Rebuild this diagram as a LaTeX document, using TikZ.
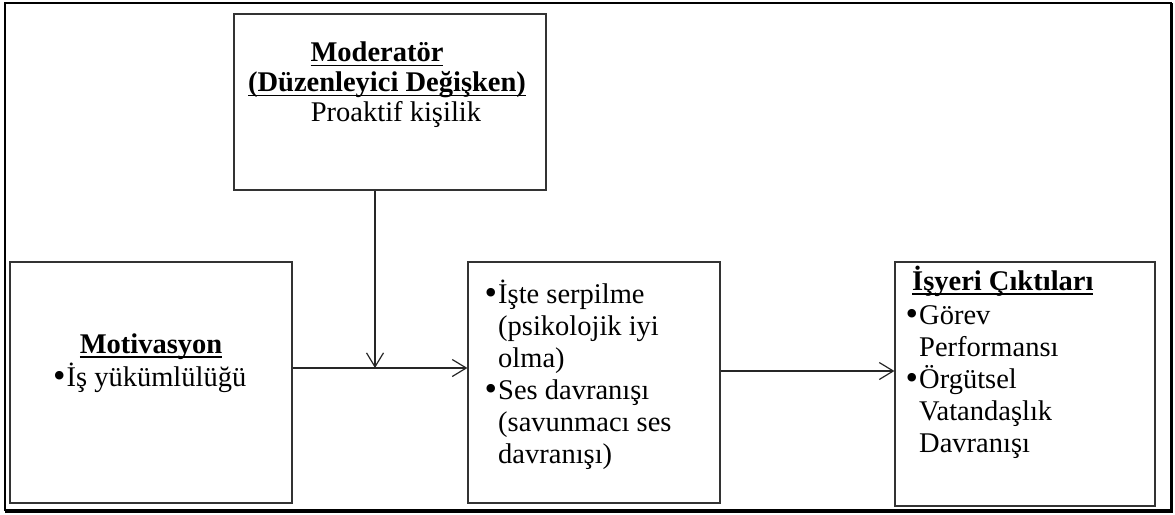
\documentclass[tikz,border=0pt]{standalone}
\usepackage{fontspec}
\setmainfont{Liberation Serif}
\usetikzlibrary{arrows.meta}
\newcommand{\undl}[1]{\setbox0\hbox{#1}\rlap{\rule[-4.5pt]{\wd0}{1.5pt}}\box0}
\newcommand{\blt}{\makebox[11pt][l]{\hspace{-2.5pt}\raisebox{-1.2pt}{\scalebox{1.25}{\textbullet}}}}

\begin{document}
\begin{tikzpicture}[x=1pt, y=-1pt, >={Straight Barb[length=14pt,width=17pt]}, font=\fontsize{28.5}{32}\selectfont]
        \tikzset{box/.style={draw=black!80, line width=1.2pt, inner sep=0pt},
                 txt/.style={inner sep=0pt, anchor=base},
                 link/.style={draw=black!85, line width=1.2pt}}
        \useasboundingbox (0,0) rectangle (1175,514);

        \draw[line width=1.2pt] (5,3) rectangle (1171,510);
        \draw[line width=3pt] (1171.5,3) -- (1171.5,511) -- (5,511);

        \node[box, minimum width=312pt, minimum height=176pt] (moder) at (390,102) {};
        \node[box, minimum width=282pt, minimum height=241pt] (motiv) at (151,382.5) {};
        \node[box, minimum width=252pt, minimum height=241pt] (mid) at (594,382.5) {};
        \node[box, minimum width=260pt, minimum height=244pt] (out) at (1025,384) {};

        \node[txt, font=\fontsize{28.5}{30}\selectfont] (modertxt) at (387,61.5) {\begin{tabular}[t]{@{}c@{}}
            \textbf{\undl{Moderatör}}\hspace*{20pt}\\
            \textbf{\undl{(Düzenleyici Değişken)}}\\
            \hspace*{18pt}Proaktif kişilik\end{tabular}};
        \node[txt] (motivtxt) at (151,353) {\begin{tabular}[t]{@{}c@{}}
            \textbf{\undl{Motivasyon}}\\
            \blt İş yükümlülüğü\end{tabular}};
        \node[txt, anchor=base west] (midtxt) at (487,303) {\begin{tabular}[t]{@{}l@{}l@{}}
            \blt & İşte serpilme\\
            & (psikolojik iyi\\
            & olma)\\
            \blt & Ses davranışı\\
            & (savunmacı ses\\
            & davranışı)\end{tabular}};
        \node[txt, anchor=base west] (outtxt) at (908,290) {\begin{tabular}[t]{@{}l@{}l@{}}
            \multicolumn{2}{@{\hspace{4pt}}l@{}}{\textbf{\undl{İşyeri Çıktıları}}}\\[2pt]
            \blt & Görev\\
            & Performansı\\
            \blt & Örgütsel\\
            & Vatandaşlık\\
            & Davranışı\end{tabular}};

        \coordinate (j) at (375,368);
        \coordinate (k) at (808,371);
        \draw[link,->] (motiv.east |- j) -- (mid.west |- j);
        \draw[link,->] (moder.south -| j) -- (j);
        \draw[link,->] (mid.east |- k) -- (out.west |- k);
    \end{tikzpicture}
\end{document}
